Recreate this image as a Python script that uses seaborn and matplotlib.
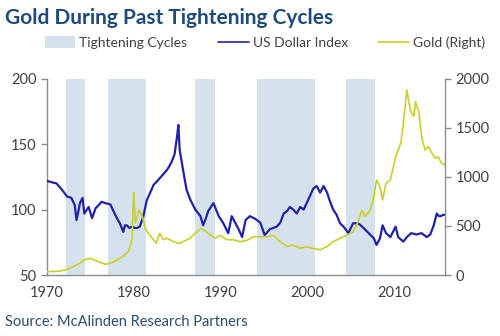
import matplotlib
matplotlib.use("Agg")
import matplotlib.pyplot as plt
import seaborn as sns
import pandas as pd
from matplotlib.patches import Patch
from matplotlib.lines import Line2D

# ---- data ----
tight_start = [1972.2, 1977.0, 1987.1, 1994.2, 2004.5]
tight_end = [1974.4, 1981.4, 1989.4, 2000.9, 2007.8]

usd_t = [1970.0, 1970.5, 1971.1, 1971.5, 1971.9, 1972.3, 1972.8, 1973.2, 1973.4, 1973.6,
         1973.8, 1974.1, 1974.3, 1974.8, 1975.2, 1975.6, 1975.9, 1976.3, 1976.7, 1977.3,
         1977.8, 1978.1, 1978.4, 1978.8, 1979.0, 1979.2, 1979.5, 1979.8, 1980.1, 1980.4,
         1980.7, 1981.1, 1981.5, 1981.9, 1982.3, 1982.6, 1983.0, 1983.4, 1983.8, 1984.1,
         1984.4, 1984.7, 1985.0, 1985.15, 1985.3, 1985.7, 1986.1, 1986.5, 1987.1, 1987.7,
         1988.0, 1988.3, 1988.6, 1989.2, 1989.5, 1989.8, 1990.3, 1990.9, 1991.3, 1991.7,
         1992.1, 1992.5, 1992.9, 1993.4, 1994.0, 1994.6, 1995.1, 1995.3, 1995.7, 1996.1,
         1996.5, 1996.9, 1997.3, 1997.7, 1998.0, 1998.4, 1998.8, 1999.2, 1999.6, 1999.95,
         2000.3, 2000.7, 2001.1, 2001.5, 2001.9, 2002.3, 2002.6, 2003.0, 2003.4, 2003.8,
         2004.2, 2004.75, 2005.3, 2005.9, 2006.5, 2007.1, 2007.7, 2008.0, 2008.4, 2008.7,
         2009.1, 2009.6, 2010.2, 2010.5, 2011.1, 2011.5, 2012.0, 2012.6, 2013.2, 2013.8,
         2014.2, 2014.6, 2014.95, 2015.2, 2015.4, 2015.7, 2015.9]
usd_v = [122, 121, 120, 117, 113.7, 110, 109, 103.5, 92, 98,
         105, 109, 97, 102, 93.5, 101, 103, 106, 105, 104,
         97, 93, 89.6, 83, 88, 88, 86, 87, 86, 86,
         87, 94.6, 107, 113, 119, 121, 124, 127, 130, 133,
         137, 142, 155.8, 164.7, 145.6, 130, 115, 108, 100, 95,
         88, 93, 99, 105, 100, 95, 90, 82, 95, 90,
         85, 79, 92, 95, 93, 90, 80.6, 82, 85, 86,
         87, 90, 97, 99, 102, 100, 97, 102, 100, 105,
         110, 116, 118, 113, 118, 113, 107, 100, 96, 89.5,
         87, 82, 89.5, 89.5, 86, 82, 78, 73, 78, 88,
         82, 79, 87, 79, 75.5, 79, 82, 81, 82, 79,
         81, 88, 97, 95, 95, 96, 96]

gold_t = [1970.0, 1971.4, 1972.3, 1973.0, 1973.8, 1974.3, 1975.0, 1975.4, 1975.9, 1976.7,
          1977.3, 1977.8, 1978.4, 1979.0, 1979.4, 1979.8, 1980.0, 1980.2, 1980.6, 1981.0,
          1981.4, 1982.0, 1982.6, 1983.0, 1983.4, 1983.8, 1984.6, 1985.2, 1985.7, 1986.5,
          1987.1, 1987.8, 1988.6, 1989.4, 1990.0, 1990.7, 1991.5, 1992.3, 1993.1, 1993.8,
          1994.6, 1995.4, 1996.1, 1996.9, 1997.7, 1998.4, 1999.2, 2000.0, 2000.6, 2001.5,
          2002.3, 2003.0, 2003.8, 2004.6, 2005.3, 2005.9, 2006.3, 2006.7, 2007.3, 2007.7,
          2008.0, 2008.4, 2008.7, 2009.1, 2009.6, 2010.2, 2010.8, 2011.1, 2011.5, 2011.9,
          2012.3, 2012.5, 2012.9, 2013.2, 2013.6, 2014.0, 2014.4, 2014.8, 2015.1, 2015.5,
          2015.9]
gold_v = [35, 38, 55, 85, 120, 155, 170, 155, 136, 110,
          120, 140, 170, 205, 240, 360, 840, 530, 660, 595,
          460, 390, 325, 425, 360, 375, 340, 320, 340, 375,
          425, 476, 425, 375, 405, 360, 360, 340, 355, 390,
          390, 390, 405, 340, 290, 305, 272, 289, 272, 258,
          290, 340, 375, 408, 440, 545, 660, 595, 665, 800,
          970, 900, 765, 935, 970, 1200, 1345, 1550, 1887, 1680,
          1615, 1770, 1650, 1410, 1275, 1310, 1240, 1190, 1205, 1140,
          1120]

x_ticks = [1970, 1980, 1990, 2000, 2010]
left_ticks = [50, 100, 150, 200]
right_ticks = [0, 500, 1000, 1500, 2000]

# ---- style ----
sns.set_style("white")
plt.rcParams["font.family"] = ["Lato", "DejaVu Sans"]

BLUE = "#2222a8"
GOLD = "#c9cf2a"
SHADE = "#d6e1ee"
TXT = "#404040"
AX = "#8c8c8c"

usd = pd.DataFrame({"t": usd_t, "v": usd_v})
gold = pd.DataFrame({"t": gold_t, "v": gold_v})

fig = plt.figure(figsize=(5, 3.36), dpi=100)
ax = fig.add_axes([0.094, 0.1815, 0.796, 0.584])

for s, e in zip(tight_start, tight_end):
    ax.axvspan(s, e, color=SHADE, lw=0, zorder=0)

sns.lineplot(data=usd, x="t", y="v", ax=ax, color=BLUE, lw=1.6, zorder=3)
ax2 = ax.twinx()
sns.lineplot(data=gold, x="t", y="v", ax=ax2, color=GOLD, lw=1.2, zorder=2)

ax.set_xlim(1970, 2015.9)
ax.set_ylim(50, 200)
ax2.set_ylim(0, 2000)
ax.set_xticks(x_ticks)
ax.set_xticks([1975, 1985, 1995, 2005, 2015], minor=True)
ax.set_yticks(left_ticks)
ax2.set_yticks(right_ticks)
for a in (ax, ax2):
    a.set_xlabel("")
    a.set_ylabel("")
    a.spines["top"].set_visible(False)
    for sp in ("left", "right", "bottom"):
        a.spines[sp].set_color(AX)
        a.spines[sp].set_linewidth(1.0)
ax.spines["right"].set_visible(False)
ax2.spines["left"].set_visible(False)
ax2.spines["bottom"].set_visible(False)

ax.tick_params(axis="both", which="major", labelsize=10.5, colors=AX, labelcolor=TXT,
               direction="out", length=4, width=1)
ax.tick_params(axis="x", which="minor", colors=AX, direction="out", length=3, width=1)
ax.tick_params(axis="x", which="major", pad=4)
ax2.tick_params(axis="y", labelsize=10.5, colors=AX, labelcolor=TXT,
                direction="out", length=4, width=1)

fig.text(0.01, 0.975, "Gold During Past Tightening Cycles", fontsize=15,
         fontweight="bold", color="#1f4a7c", va="top", ha="left")

handles = [Patch(facecolor=SHADE, edgecolor="none"),
           Line2D([0], [0], color=BLUE, lw=1.2),
           Line2D([0], [0], color=GOLD, lw=1.2)]
labels = ["Tightening Cycles", "US Dollar Index", "Gold (Right)"]
fig.legend(handles, labels, loc="center", bbox_to_anchor=(0.53, 0.873), ncol=3,
           frameon=False, fontsize=10, handlelength=2.2, handleheight=0.9,
           columnspacing=2.2, handletextpad=0.3, labelcolor=TXT)

fig.text(0.01, 0.042, "Source: McAlinden Research Partners", fontsize=10.5,
         color="#2a4b70", va="center", ha="left")

fig.savefig("out.png", dpi=100)
